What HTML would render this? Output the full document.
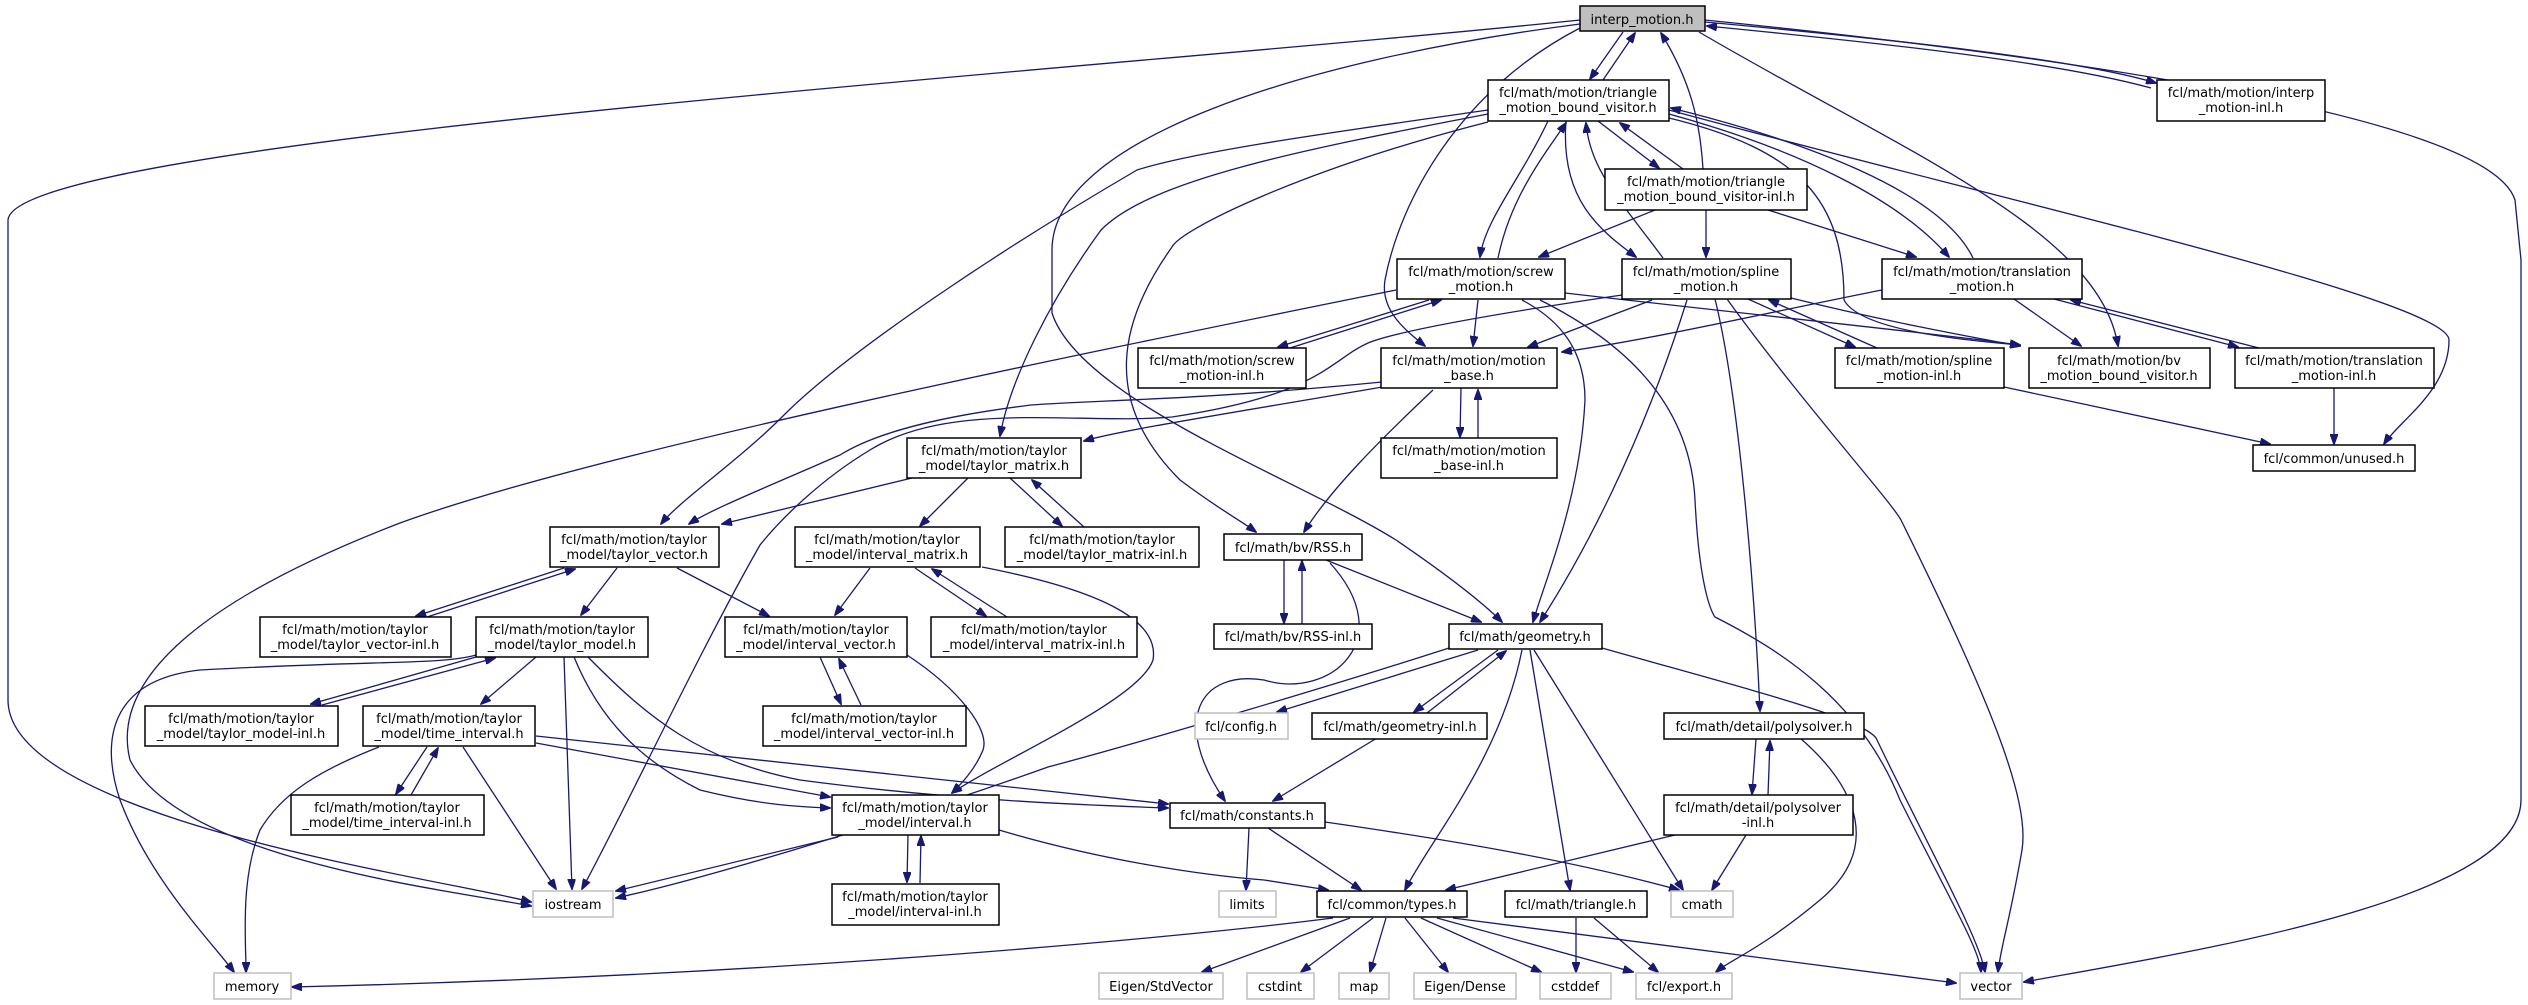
<!DOCTYPE html>
<html><head><meta charset="utf-8"><style>
html,body{margin:0;padding:0;background:#fff;}
svg{display:block;}
text{font-family:"DejaVu Sans","Liberation Sans",sans-serif;font-size:13px;fill:#000;text-anchor:middle;}
.n{fill:#fff;stroke:#000;stroke-width:1.5;}
.g{fill:#fff;stroke:#bfbfbf;stroke-width:1.5;}
.e{fill:none;stroke:#191970;stroke-width:1.3;marker-end:url(#a);}
</style></head><body>
<svg width="2528" height="1005" viewBox="0 0 2528 1005" xmlns="http://www.w3.org/2000/svg">
<defs><marker id="a" markerUnits="userSpaceOnUse" markerWidth="11" markerHeight="8" refX="10" refY="4" orient="auto"><path d="M0,0 L11,4 L0,8 z" fill="#191970" stroke="#191970"/></marker></defs>
<g>
<!-- interp edges -->
<path class="e" d="M1623,32 L1590,79"/>
<path class="e" d="M1603,80 L1635,33"/>
<path class="e" d="M1703,169 C1700,120 1690,80 1661,33"/>
<path class="e" d="M1705,22 C1900,40 2080,60 2156,83"/>
<path class="e" d="M2151,88 C2050,60 1850,40 1707,26"/>
<path class="e" d="M1705,20 C2100,60 2490,120 2515,200 L2521,260 L2521,800 C2521,900 2200,950 2024,982"/>
<path class="e" d="M1699,32 C1900,150 2100,230 2118,346"/>
<path class="e" d="M1580,28 C1460,90 1400,200 1385,280 C1380,310 1405,330 1425,346"/>
<path class="e" d="M1580,24 C1300,60 1052,140 1052,250 L1052,313 C1080,400 1300,480 1396,540 C1440,570 1480,600 1502,622"/>
<path class="e" d="M1580,20 C1100,70 12,140 8,220 L8,700 C8,820 450,880 531,902"/>
<!-- TV edges -->
<path class="e" d="M1598,121 L1659,168"/>
<path class="e" d="M1683,169 L1620,123"/>
<path class="e" d="M1548,121 C1520,180 1485,220 1480,257"/>
<path class="e" d="M1498,258 C1510,200 1540,160 1566,123"/>
<path class="e" d="M1566,121 C1560,200 1600,230 1636,257"/>
<path class="e" d="M1663,258 C1620,200 1590,170 1586,123"/>
<path class="e" d="M1669,114 C1800,150 1900,200 1949,257"/>
<path class="e" d="M1973,258 C1940,190 1800,140 1671,108"/>
<path class="e" d="M1669,118 C1800,150 1844,200 1844,300 C1860,330 1960,340 2020,345"/>
<path class="e" d="M1669,110 C2000,200 2449,300 2449,340 C2449,390 2400,420 2384,444"/>
<path class="e" d="M1488,110 C1350,130 1200,150 1137,170 C1000,250 850,350 786,413 C740,460 680,500 661,524"/>
<path class="e" d="M1488,114 C1300,150 1150,180 1101,230 C1050,300 1010,380 1000,436"/>
<path class="e" d="M1488,122 C1300,170 1180,230 1172,247 C1120,320 1100,400 1180,480 C1220,510 1240,520 1256,532"/>
<!-- TVI -->
<path class="e" d="M1655,210 L1539,257"/>
<path class="e" d="M1706,210 L1706,257"/>
<path class="e" d="M1768,210 L1916,257"/>
<!-- screw -->
<path class="e" d="M1429,300 L1278,347"/>
<path class="e" d="M1290,348 L1441,300"/>
<path class="e" d="M1478,300 L1473,346"/>
<path class="e" d="M1565,293 C1800,320 1950,335 2020,345"/>
<path class="e" d="M1522,300 C1560,320 1585,350 1585,400 C1580,500 1545,580 1533,622"/>
<path class="e" d="M1540,300 C1620,340 1690,400 1695,500 C1700,600 1715,617 1715,617 C1780,650 1860,700 1900,800 C1950,900 1980,950 1981,972"/>
<path class="e" d="M1396,290 C1100,350 600,450 400,523 C200,600 110,680 130,760 C180,860 450,890 531,906"/>
<!-- spline -->
<path class="e" d="M1652,300 L1528,347"/>
<path class="e" d="M1791,298 C1880,320 1960,335 2020,346"/>
<path class="e" d="M1748,299 L1855,347"/>
<path class="e" d="M1877,348 L1769,300"/>
<path class="e" d="M1687,300 C1640,450 1580,560 1540,622"/>
<path class="e" d="M1715,299 C1740,400 1755,600 1760,711"/>
<path class="e" d="M1727,299 C1800,400 1890,500 1901,520 C1990,700 2030,800 2022,850 C2010,920 2000,950 1998,972"/>
<path class="e" d="M1622,295 C1500,313 1400,330 1368,343 C1330,360 1320,395 1172,417 C1080,425 950,400 870,450 C820,480 780,520 760,545 C700,650 620,820 582,889"/>
<!-- translation -->
<path class="e" d="M1882,290 C1780,310 1650,340 1562,352"/>
<path class="e" d="M2014,299 L2081,346"/>
<path class="e" d="M2054,299 L2238,347"/>
<path class="e" d="M2259,348 L2071,300"/>
<path class="e" d="M2334,388 L2334,444"/>
<path class="e" d="M2004,387 L2270,444"/>
<!-- motion base -->
<path class="e" d="M1461,388 L1460,437"/>
<path class="e" d="M1478,438 L1478,390"/>
<path class="e" d="M1433,390 C1380,440 1330,490 1304,532"/>
<path class="e" d="M1382,387 C1250,410 1120,430 1084,441"/>
<path class="e" d="M1382,382 C1200,400 1100,400 1031,405 C950,415 880,430 840,455 C760,490 710,510 689,524"/>
<!-- taylor matrix -->
<path class="e" d="M912,478 L722,524"/>
<path class="e" d="M968,478 L920,526"/>
<path class="e" d="M1010,478 L1062,526"/>
<path class="e" d="M1084,527 L1032,480"/>
<!-- taylor vector -->
<path class="e" d="M564,568 L416,616"/>
<path class="e" d="M427,617 L575,569"/>
<path class="e" d="M617,568 L581,615"/>
<path class="e" d="M677,568 L769,616"/>
<!-- interval matrix -->
<path class="e" d="M870,568 L835,615"/>
<path class="e" d="M915,568 L986,616"/>
<path class="e" d="M1007,617 L932,569"/>
<path class="e" d="M982,567 C1100,590 1160,620 1153,660 C1140,700 1000,760 952,793"/>
<!-- interval vector -->
<path class="e" d="M820,657 L841,704"/>
<path class="e" d="M861,705 L839,659"/>
<path class="e" d="M907,655 C960,690 990,730 983,750 C975,770 960,785 952,793"/>
<!-- taylor model -->
<path class="e" d="M476,657 L311,704"/>
<path class="e" d="M322,705 L495,658"/>
<path class="e" d="M536,657 L481,704"/>
<path class="e" d="M564,657 L572,889"/>
<path class="e" d="M574,657 C600,720 640,760 700,790 C760,805 800,807 830,808"/>
<path class="e" d="M588,657 C650,720 700,760 800,780 C950,800 1080,805 1168,808"/>
<path class="e" d="M476,655 C440,665 380,660 200,670 C110,680 100,740 120,800 C150,880 210,940 234,972"/>
<!-- time interval -->
<path class="e" d="M427,747 L396,794"/>
<path class="e" d="M411,795 L438,748"/>
<path class="e" d="M463,747 L556,889"/>
<path class="e" d="M536,743 L830,797"/>
<path class="e" d="M536,736 L1168,804"/>
<path class="e" d="M379,747 C320,770 282,793 260,830 C240,880 246,940 246,972"/>
<!-- interval -->
<path class="e" d="M908,835 L907,882"/>
<path class="e" d="M920,883 L921,836"/>
<path class="e" d="M838,837 L616,891"/>
<path class="e" d="M999,830 C1100,860 1200,875 1264,880 L1328,890"/>
<!-- RSS -->
<path class="e" d="M1284,560 L1284,623"/>
<path class="e" d="M1302,624 L1302,561"/>
<path class="e" d="M1326,560 L1481,622"/>
<path class="e" d="M1330,563 C1400,640 1330,700 1264,680 C1200,670 1170,720 1225,801"/>
<!-- geometry -->
<path class="e" d="M1498,650 L1414,712"/>
<path class="e" d="M1427,713 L1506,651"/>
<path class="e" d="M1478,650 L1277,712"/>
<path class="e" d="M1522,650 C1500,760 1430,840 1405,890"/>
<path class="e" d="M1530,650 L1570,890"/>
<path class="e" d="M1534,650 L1683,890"/>
<path class="e" d="M1602,648 C1750,690 1870,720 1877,740 C1930,850 1980,940 1985,972"/>
<path class="e" d="M1449,648 C1350,680 1150,740 1048,767 C900,820 700,880 616,898"/>
<path class="e" d="M1377,738 L1273,801"/>
<!-- polysolver -->
<path class="e" d="M1756,739 L1752,794"/>
<path class="e" d="M1768,795 L1770,741"/>
<path class="e" d="M1800,738 C1860,790 1880,850 1820,900 C1760,950 1730,960 1716,972"/>
<path class="e" d="M1675,835 L1446,890"/>
<path class="e" d="M1746,835 L1712,890"/>
<!-- constants -->
<path class="e" d="M1325,822 C1450,840 1570,860 1679,890"/>
<path class="e" d="M1268,828 L1361,890"/>
<path class="e" d="M1249,828 L1246,890"/>
<!-- types -->
<path class="e" d="M1333,918 C1200,935 800,975 292,987"/>
<path class="e" d="M1350,918 L1202,972"/>
<path class="e" d="M1373,918 L1301,972"/>
<path class="e" d="M1386,918 L1370,972"/>
<path class="e" d="M1405,918 L1448,972"/>
<path class="e" d="M1421,918 L1541,972"/>
<path class="e" d="M1437,918 L1633,972"/>
<path class="e" d="M1453,918 L1956,983"/>
<path class="e" d="M1576,918 L1576,972"/>
<path class="e" d="M1594,918 L1658,972"/>
</g>
<!-- nodes -->
<g>
<rect x="1580" y="6" width="125" height="25" fill="#bfbfbf" stroke="#000" stroke-width="1.5"/><text x="1642" y="24">interp_motion.h</text>
<rect class="n" x="1488" y="80" width="181" height="41"/><text x="1578" y="97">fcl/math/motion/triangle</text><text x="1578" y="112">_motion_bound_visitor.h</text>
<rect class="n" x="2157" y="80" width="168" height="41"/><text x="2241" y="97">fcl/math/motion/interp</text><text x="2241" y="112">_motion-inl.h</text>
<rect class="n" x="1605" y="169" width="202" height="41"/><text x="1706" y="186">fcl/math/motion/triangle</text><text x="1706" y="201">_motion_bound_visitor-inl.h</text>
<rect class="n" x="1397" y="259" width="168" height="40"/><text x="1481" y="276">fcl/math/motion/screw</text><text x="1481" y="291">_motion.h</text>
<rect class="n" x="1622" y="259" width="169" height="40"/><text x="1706" y="276">fcl/math/motion/spline</text><text x="1706" y="291">_motion.h</text>
<rect class="n" x="1882" y="259" width="200" height="40"/><text x="1982" y="276">fcl/math/motion/translation</text><text x="1982" y="291">_motion.h</text>
<rect class="n" x="1138" y="348" width="168" height="40"/><text x="1222" y="365">fcl/math/motion/screw</text><text x="1222" y="380">_motion-inl.h</text>
<rect class="n" x="1381" y="348" width="176" height="40"/><text x="1469" y="365">fcl/math/motion/motion</text><text x="1469" y="380">_base.h</text>
<rect class="n" x="1835" y="348" width="169" height="40"/><text x="1919" y="365">fcl/math/motion/spline</text><text x="1919" y="380">_motion-inl.h</text>
<rect class="n" x="2029" y="348" width="181" height="40"/><text x="2119" y="365">fcl/math/motion/bv</text><text x="2119" y="380">_motion_bound_visitor.h</text>
<rect class="n" x="2235" y="348" width="199" height="40"/><text x="2334" y="365">fcl/math/motion/translation</text><text x="2334" y="380">_motion-inl.h</text>
<rect class="n" x="1381" y="438" width="176" height="40"/><text x="1469" y="455">fcl/math/motion/motion</text><text x="1469" y="470">_base-inl.h</text>
<rect class="n" x="2253" y="445" width="162" height="26"/><text x="2334" y="463">fcl/common/unused.h</text>
<rect class="n" x="907" y="438" width="174" height="40"/><text x="994" y="455">fcl/math/motion/taylor</text><text x="994" y="470">_model/taylor_matrix.h</text>
<rect class="n" x="550" y="527" width="169" height="40"/><text x="634" y="544">fcl/math/motion/taylor</text><text x="634" y="559">_model/taylor_vector.h</text>
<rect class="n" x="795" y="527" width="185" height="40"/><text x="887" y="544">fcl/math/motion/taylor</text><text x="887" y="559">_model/interval_matrix.h</text>
<rect class="n" x="1005" y="527" width="194" height="40"/><text x="1102" y="544">fcl/math/motion/taylor</text><text x="1102" y="559">_model/taylor_matrix-inl.h</text>
<rect class="n" x="1224" y="534" width="138" height="26"/><text x="1293" y="552">fcl/math/bv/RSS.h</text>
<rect class="n" x="260" y="617" width="191" height="40"/><text x="355" y="634">fcl/math/motion/taylor</text><text x="355" y="649">_model/taylor_vector-inl.h</text>
<rect class="n" x="476" y="617" width="172" height="40"/><text x="562" y="634">fcl/math/motion/taylor</text><text x="562" y="649">_model/taylor_model.h</text>
<rect class="n" x="725" y="617" width="182" height="40"/><text x="816" y="634">fcl/math/motion/taylor</text><text x="816" y="649">_model/interval_vector.h</text>
<rect class="n" x="931" y="617" width="206" height="40"/><text x="1034" y="634">fcl/math/motion/taylor</text><text x="1034" y="649">_model/interval_matrix-inl.h</text>
<rect class="n" x="1214" y="624" width="158" height="25"/><text x="1293" y="641">fcl/math/bv/RSS-inl.h</text>
<rect class="n" x="1449" y="624" width="153" height="25"/><text x="1525" y="641">fcl/math/geometry.h</text>
<rect class="n" x="145" y="706" width="193" height="40"/><text x="241" y="723">fcl/math/motion/taylor</text><text x="241" y="738">_model/taylor_model-inl.h</text>
<rect class="n" x="363" y="706" width="172" height="40"/><text x="449" y="723">fcl/math/motion/taylor</text><text x="449" y="738">_model/time_interval.h</text>
<rect class="n" x="763" y="706" width="203" height="40"/><text x="864" y="723">fcl/math/motion/taylor</text><text x="864" y="738">_model/interval_vector-inl.h</text>
<rect class="g" x="1195" y="713" width="93" height="26"/><text x="1241" y="731">fcl/config.h</text>
<rect class="n" x="1312" y="713" width="175" height="26"/><text x="1400" y="731">fcl/math/geometry-inl.h</text>
<rect class="n" x="1664" y="713" width="200" height="26"/><text x="1764" y="731">fcl/math/detail/polysolver.h</text>
<rect class="n" x="291" y="795" width="193" height="40"/><text x="387" y="812">fcl/math/motion/taylor</text><text x="387" y="827">_model/time_interval-inl.h</text>
<rect class="n" x="832" y="795" width="167" height="40"/><text x="915" y="812">fcl/math/motion/taylor</text><text x="915" y="827">_model/interval.h</text>
<rect class="n" x="1170" y="803" width="155" height="25"/><text x="1247" y="820">fcl/math/constants.h</text>
<rect class="n" x="1664" y="795" width="189" height="40"/><text x="1758" y="812">fcl/math/detail/polysolver</text><text x="1758" y="827">-inl.h</text>
<rect class="g" x="533" y="891" width="80" height="26"/><text x="573" y="909">iostream</text>
<rect class="n" x="832" y="884" width="167" height="41"/><text x="915" y="901">fcl/math/motion/taylor</text><text x="915" y="916">_model/interval-inl.h</text>
<rect class="g" x="1219" y="891" width="57" height="26"/><text x="1247" y="909">limits</text>
<rect class="n" x="1317" y="891" width="150" height="26"/><text x="1392" y="909">fcl/common/types.h</text>
<rect class="n" x="1505" y="891" width="142" height="26"/><text x="1576" y="909">fcl/math/triangle.h</text>
<rect class="g" x="1671" y="891" width="62" height="26"/><text x="1702" y="909">cmath</text>
<rect class="g" x="214" y="973" width="77" height="26"/><text x="252" y="991">memory</text>
<rect class="g" x="1099" y="973" width="124" height="26"/><text x="1161" y="991">Eigen/StdVector</text>
<rect class="g" x="1247" y="973" width="67" height="26"/><text x="1280" y="991">cstdint</text>
<rect class="g" x="1339" y="973" width="50" height="26"/><text x="1364" y="991">map</text>
<rect class="g" x="1414" y="973" width="102" height="26"/><text x="1465" y="991">Eigen/Dense</text>
<rect class="g" x="1540" y="973" width="71" height="26"/><text x="1575" y="991">cstddef</text>
<rect class="g" x="1636" y="973" width="96" height="26"/><text x="1684" y="991">fcl/export.h</text>
<rect class="g" x="1960" y="973" width="62" height="26"/><text x="1991" y="991">vector</text>
</g>
</svg>
</body></html>
